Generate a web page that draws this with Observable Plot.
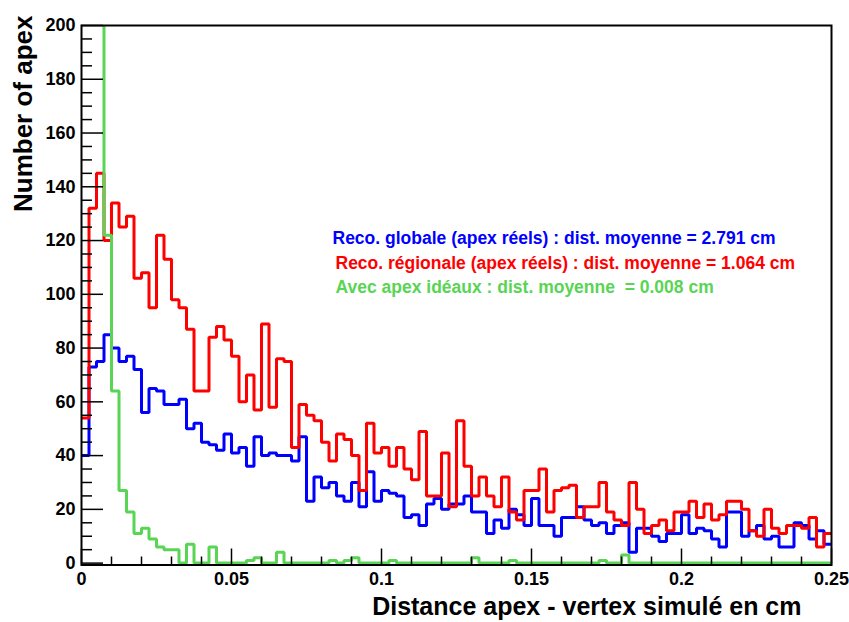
<!DOCTYPE html>
<html><head><meta charset="utf-8">
<script src="https://cdn.jsdelivr.net/npm/d3@7"></script>
<script src="https://cdn.jsdelivr.net/npm/@observablehq/plot@0.6"></script>
<style>
html,body{margin:0;padding:0;background:#fff;}
svg text{white-space:pre;}
</style></head><body><div id="chart"></div>
<script>
const binWidth = 0.0025;
const blueValues = [40,73,75,85,80,75,77,72,56,65, 64,59,59,61,50,52,45,44,42,48, 41,43,36,47,40,41,40,40,38,47, 23,32,28,30,25,23,30,21,34,23, 27,26,25,17,18,14,22,24,20,22, 22,25,19,19,11,16,13,20,18,14, 24,14,14,10,17,17,21,16,14,15, 11,14,15,4,13,13,10,8,11,11, 18,11,13,12,9,6,19,19,10,12, 14,9,10,6,6,15,14,9,12,7];
const redValues = [54,132,145,120,134,125,129,106,108,95, 122,113,98,95,87,64,64,84,88,83, 77,60,70,57,89,58,76,75,43,59, 55,53,45,38,48,46,40,27,52,41, 43,36,43,35,31,49,25,25,41,21, 53,36,25,32,25,21,32,19,16,27, 27,35,19,27,28,29,17,21,21,30, 19,16,14,30,20,11,14,16,12,19, 19,23,17,22,16,18,23,23,20,12, 10,20,13,11,14,14,13,17,6,11];
const greenValues = [300,520,560,122,64,27,19,11,13,9, 6,5,5,0,7,0,0,6,0,0, 0,0,1,2,0,0,4,0,0,0, 0,0,0,1,0,1,2,0,0,0, 0,1,0,0,0,0,0,0,0,0, 0,0,2,0,0,0,0,1,0,0, 0,0,0,0,0,0,0,0,0,1, 0,0,3,0,0,0,0,0,0,0, 0,0,0,0,0,0,0,0,0,0, 0,0,0,0,0,0,0,0,0,0];
const xTicks = [0, 0.05, 0.1, 0.15, 0.2, 0.25];
const xTickLabels = ["0", "0.05", "0.1", "0.15", "0.2", "0.25"];
const yTicks = [0, 20, 40, 60, 80, 100, 120, 140, 160, 180, 200];
const yTickLabels = ["0", "20", "40", "60", "80", "100", "120", "140", "160", "180", "200"];
const legendLabels = [
  "Reco. globale (apex réels) : dist. moyenne = 2.791 cm",
  "Reco. régionale (apex réels) : dist. moyenne = 1.064 cm",
  "Avec apex idéaux : dist. moyenne  = 0.008 cm"
];
const xTitle = "Distance apex - vertex simulé en cm";
const yTitle = "Number of apex";

const xMinor = d3.range(0, 0.2501, 0.01).filter(v => Math.abs(v / 0.05 - Math.round(v / 0.05)) > 1e-6);
const yMinor = d3.range(0, 201, 5).filter(v => v % 20 !== 0);

function steps(values) {
  const pts = values.map((v, i) => ({x: i * binWidth, y: v}));
  pts.push({x: values.length * binWidth, y: values[values.length - 1]});
  return pts;
}
const lineOpts = {x: "x", y: "y", curve: "step-after", strokeWidth: 3, strokeLinejoin: "miter", strokeLinecap: "butt", clip: true};
const font = "'Liberation Sans', Arial, Helvetica, sans-serif";

const chart = Plot.plot({
  width: 849, height: 622,
  marginLeft: 81, marginRight: 18, marginTop: 25, marginBottom: 57.5,
  style: {fontFamily: font, fontWeight: "bold", background: "white", overflow: "visible", color: "black"},
  x: {domain: [0, 0.25]},
  y: {domain: [-0.7, 200]},
  marks: [
    Plot.line(steps(blueValues), {...lineOpts, stroke: "#0000ff"}),
    Plot.line(steps(redValues), {...lineOpts, stroke: "#ff0000"}),
    Plot.line(steps(greenValues), {...lineOpts, stroke: "#59d454"}),
    Plot.axisX({ticks: xMinor, tickSize: -8, tickFormat: () => "", label: null, strokeWidth: 1.5}),
    Plot.axisX({ticks: xTicks, tickSize: -16, tickFormat: () => "", label: null, strokeWidth: 1.5}),
    Plot.axisX({ticks: xTicks, tickSize: 0, tickPadding: 7, tickFormat: d => xTickLabels[xTicks.indexOf(d)], fontSize: 18, label: null}),
    Plot.axisY({ticks: yMinor, tickSize: -11, tickFormat: () => "", label: null, strokeWidth: 1.5}),
    Plot.axisY({ticks: yTicks, tickSize: -22, tickFormat: () => "", label: null, strokeWidth: 1.5}),
    Plot.axisY({ticks: yTicks, tickSize: 0, tickPadding: 6, tickFormat: d => yTickLabels[yTicks.indexOf(d)], fontSize: 18, label: null}),
    Plot.frame({stroke: "black", strokeWidth: 2}),
    Plot.text([yTitle], {frameAnchor: "top-left", text: d => d, rotate: -90, textAnchor: "end", lineAnchor: "bottom", dx: -50, dy: -10, fontSize: 26, fill: "black"}),
    Plot.text([xTitle], {frameAnchor: "bottom-right", text: d => d, textAnchor: "end", lineAnchor: "bottom", dx: -30, dy: 49.5, fontSize: 25, fill: "black"}),
    Plot.text([legendLabels[0]], {frameAnchor: "top-left", text: d => d, textAnchor: "start", lineAnchor: "middle", dx: 251, dy: 212.5, fontSize: 17.5, fill: "#0000ff"}),
    Plot.text([legendLabels[1]], {frameAnchor: "top-left", text: d => d, textAnchor: "start", lineAnchor: "middle", dx: 254, dy: 238, fontSize: 17.5, fill: "#ff0000"}),
    Plot.text([legendLabels[2]], {frameAnchor: "top-left", text: d => d, textAnchor: "start", lineAnchor: "middle", dx: 254, dy: 262, fontSize: 17.5, fill: "#59d454"})
  ]
});
document.getElementById("chart").appendChild(chart);
</script></body></html>
